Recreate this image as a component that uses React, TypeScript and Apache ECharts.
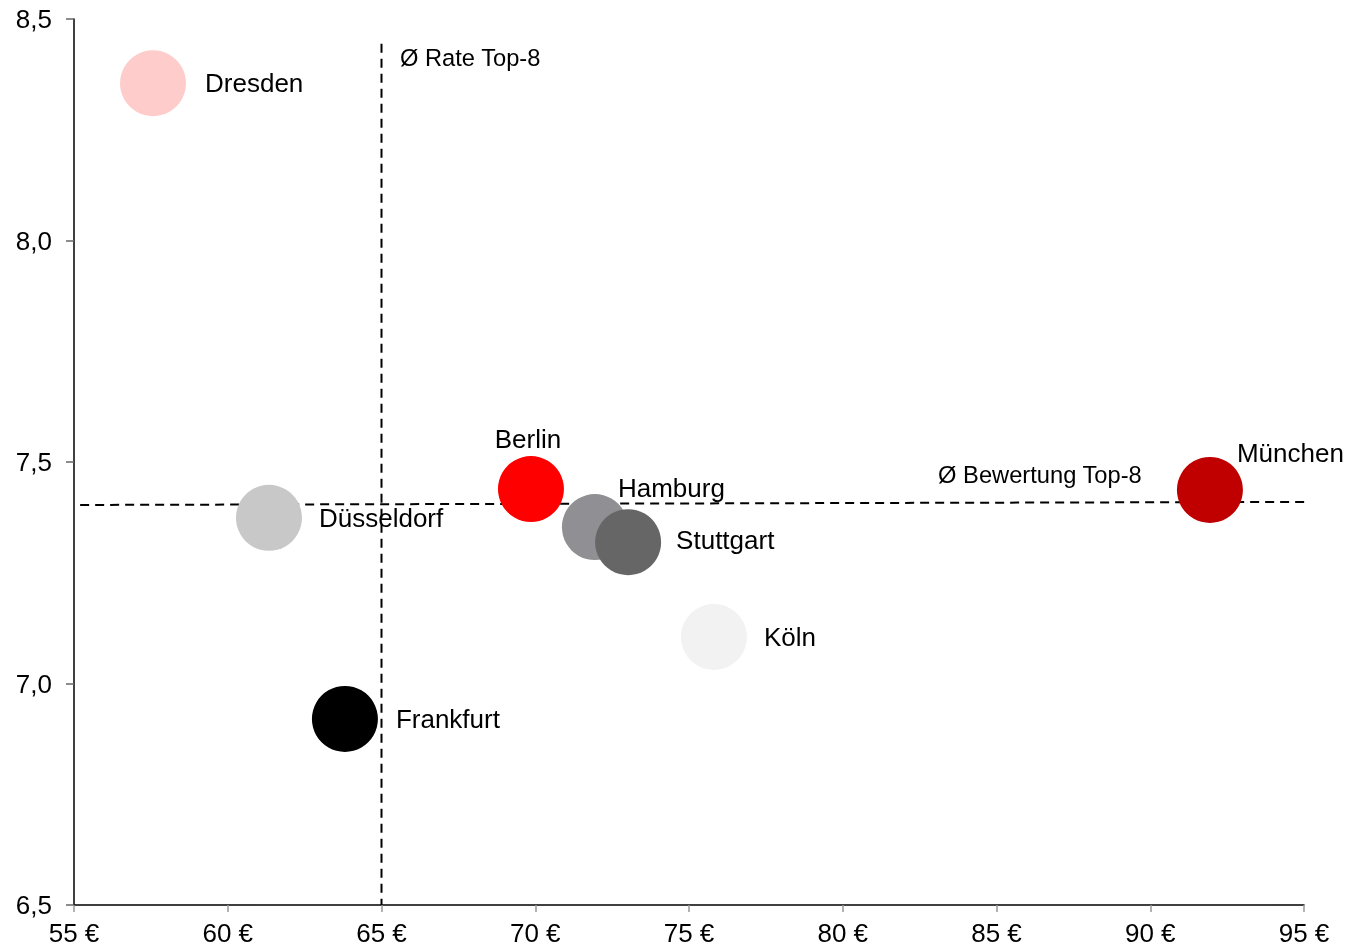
import React, { useEffect, useRef } from "react";
import * as echarts from "echarts";

const cities = ["Dresden", "Düsseldorf", "Frankfurt", "Berlin", "Hamburg", "Stuttgart", "Köln", "München"];
const rentValues = [57.57, 61.34, 63.81, 69.86, 71.94, 73.02, 75.81, 91.94];
const ratingValues = [8.355, 7.374, 6.92, 7.439, 7.353, 7.319, 7.105, 7.437];
const avgRateLine = [[65, 8.444], [65, 6.5]];
const avgRatingLine = [[55.2, 7.403], [95.29, 7.41]];
const xTicks = { min: 55, max: 95, interval: 5 };
const yTicks = { min: 6.5, max: 8.5, interval: 0.5 };
const refLabels = [
  { text: "Ø Rate Top-8", x: 65.6, y: 8.412 },
  { text: "Ø Bewertung Top-8", x: 83.1, y: 7.471 },
];

const cityColors: Record<string, string> = {
  Dresden: "#ffcccc",
  "Düsseldorf": "#c8c8c8",
  Frankfurt: "#000000",
  Berlin: "#ff0000",
  Hamburg: "#909094",
  Stuttgart: "#666666",
  "Köln": "#f2f2f2",
  "München": "#c00000",
};

const labelLayout: Record<string, any> = {
  Dresden: { position: "right", distance: 19, offset: [0, 0] },
  "Düsseldorf": { position: "right", distance: 17, offset: [0, 0] },
  Frankfurt: { position: "right", distance: 18, offset: [0, 0] },
  Berlin: { position: "top", distance: 5, offset: [-3, 1] },
  Hamburg: { position: "right", distance: 0, offset: [-10, -39] },
  Stuttgart: { position: "right", distance: 15, offset: [0, -2] },
  "Köln": { position: "right", distance: 17, offset: [0, 0] },
  "München": { position: "right", distance: 0, offset: [-6, -37] },
};

const FONT = "'Liberation Sans', Arial, sans-serif";

export default function App() {
  const ref = useRef<HTMLDivElement>(null);
  useEffect(() => {
    if (!ref.current) return;
    const chart = echarts.init(ref.current, null, { renderer: "svg" });
    const dashStyle = { color: "#000", width: 2, type: [9, 6] as any };
    chart.setOption({
      animation: false,
      textStyle: { fontFamily: FONT },
      grid: { left: 74, right: 60, top: 19, bottom: 43, containLabel: false },
      xAxis: {
        type: "value",
        min: xTicks.min,
        max: xTicks.max,
        interval: xTicks.interval,
        splitLine: { show: false },
        axisLine: { show: true, lineStyle: { color: "#000", width: 1.5 } },
        axisTick: { show: true, length: 7, lineStyle: { color: "#999", width: 1.5 } },
        axisLabel: {
          color: "#000",
          fontSize: 26,
          fontFamily: FONT,
          margin: 15,
          formatter: (v: number) => `${v} €`,
        },
      },
      yAxis: {
        type: "value",
        min: yTicks.min,
        max: yTicks.max,
        interval: yTicks.interval,
        splitLine: { show: false },
        axisLine: { show: true, lineStyle: { color: "#000", width: 1.5 } },
        axisTick: { show: true, length: 8, lineStyle: { color: "#666", width: 1.5 } },
        axisLabel: {
          color: "#000",
          fontSize: 26,
          fontFamily: FONT,
          margin: 22,
          formatter: (v: number) => v.toFixed(1).replace(".", ","),
        },
      },
      series: [
        {
          type: "line",
          data: avgRateLine,
          clip: false,
          symbol: "none",
          lineStyle: dashStyle,
          z: 1,
          silent: true,
        },
        {
          type: "line",
          data: avgRatingLine,
          clip: false,
          symbol: "none",
          lineStyle: dashStyle,
          z: 1,
          silent: true,
        },
        {
          type: "scatter",
          symbolSize: 0.01,
          z: 3,
          itemStyle: { color: "#000", opacity: 1 },
          data: refLabels.map((r) => ({
            value: [r.x, r.y],
            label: {
              show: true,
              position: "right",
              distance: 0,
              formatter: r.text,
              fontSize: 23.7,
              color: "#000",
              opacity: 1,
              fontFamily: FONT,
            },
          })),
        },
        {
          type: "scatter",
          symbolSize: 66,
          z: 2,
          data: cities.map((c, i) => ({
            name: c,
            value: [rentValues[i], ratingValues[i]],
            itemStyle: { color: cityColors[c], opacity: 1 },
            label: {
              show: true,
              formatter: c,
              fontSize: 26,
              color: "#000",
              fontFamily: FONT,
              ...labelLayout[c],
            },
          })),
        },
      ],
    });
    return () => chart.dispose();
  }, []);
  return (
    <div
      ref={ref}
      style={{ position: "fixed", left: 0, top: 0, width: 1364, height: 948 }}
    />
  );
}
